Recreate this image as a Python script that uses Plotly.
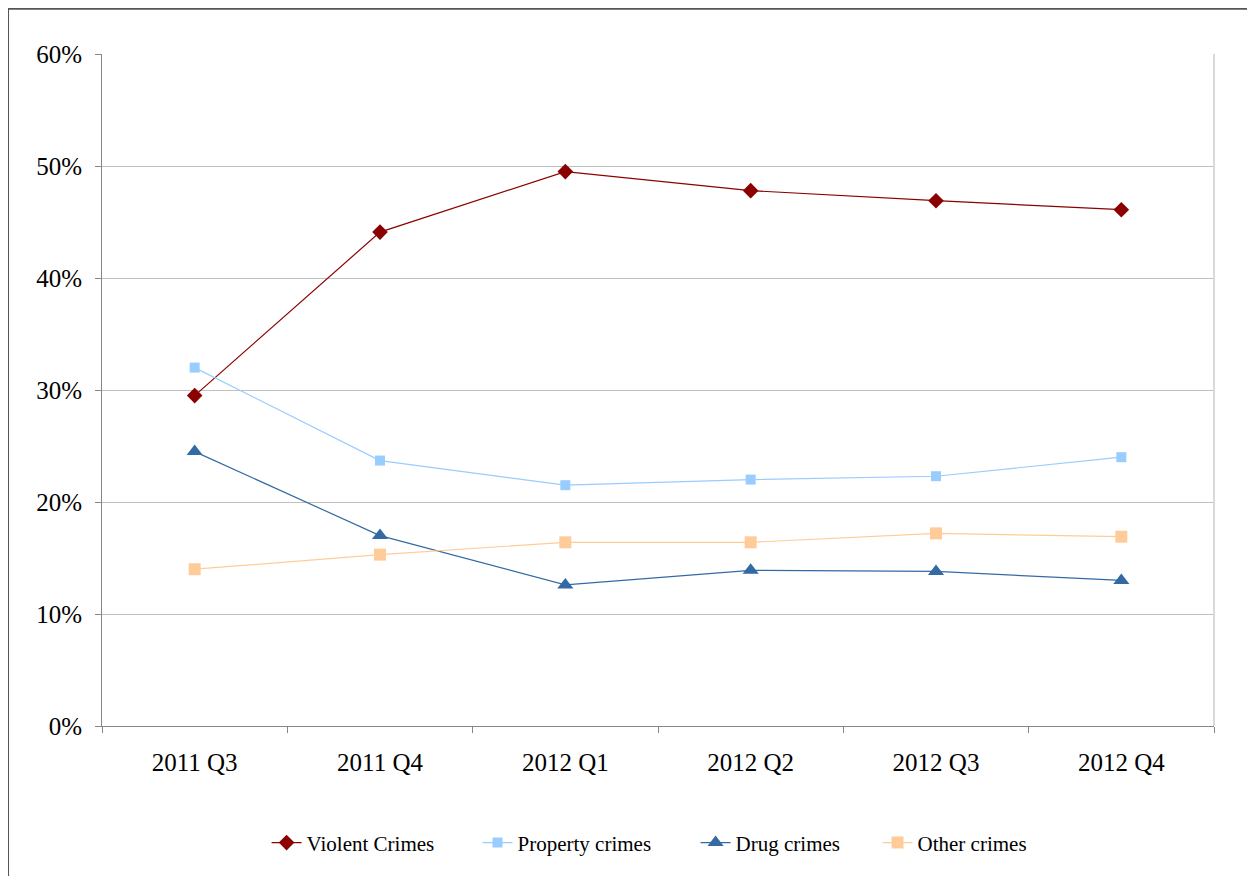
import plotly.graph_objects as go

quarters = ["2011 Q3", "2011 Q4", "2012 Q1", "2012 Q2", "2012 Q3", "2012 Q4"]
violent = [29.5, 44.1, 49.5, 47.8, 46.9, 46.1]
property_ = [32.0, 23.7, 21.5, 22.0, 22.3, 24.0]
drug = [24.5, 17.0, 12.6, 13.9, 13.8, 13.0]
other = [14.0, 15.3, 16.4, 16.4, 17.2, 16.9]

series = [
    ("Violent Crimes", violent, "#8B0000", "diamond", 12),
    ("Property crimes", property_, "#99CCFF", "square", 10),
    ("Drug crimes", drug, "#336AA3", "triangle-up", 14),
    ("Other crimes", other, "#FFCC99", "square", 12),
]
legend_names = ["legend", "legend2", "legend3", "legend4"]
legend_x = [0.1480, 0.3377, 0.5338, 0.6974]

font = "Liberation Serif, Times New Roman, serif"
fig = go.Figure()
for (name, vals, color, sym, size), lg in zip(series, legend_names):
    fig.add_trace(go.Scatter(
        x=quarters, y=[v / 100 for v in vals], name=name, mode="lines+markers",
        line=dict(color=color, width=1.2),
        marker=dict(symbol=sym, size=size, color=color),
        legend=lg,
    ))

legend_layout = {}
for lg, lx in zip(legend_names, legend_x):
    legend_layout[lg] = dict(orientation="h", x=lx, xanchor="left", y=-0.174,
                             yanchor="middle", font=dict(family=font, size=21),
                             bgcolor="rgba(0,0,0,0)")

fig.update_layout(
    width=1247, height=868,
    margin=dict(l=94, r=41, t=46, b=148),
    paper_bgcolor="white", plot_bgcolor="white",
    font=dict(family=font, size=25, color="black"),
    showlegend=True,
    xaxis=dict(range=[-0.5, 5.5], showgrid=False, showline=True, linecolor="#868686",
               linewidth=1, ticks="outside", tickson="boundaries", ticklen=6,
               tickcolor="#868686", tickfont=dict(size=25), zeroline=False,
               ticklabelstandoff=14),
    yaxis=dict(range=[0, 0.6], dtick=0.1, tickformat=".0%", showgrid=True,
               gridcolor="#C0C0C0", gridwidth=1, showline=True, linecolor="#868686",
               ticks="outside", ticklen=6, tickcolor="#868686", zeroline=False,
               tickfont=dict(size=25), ticklabelstandoff=8),
    shapes=[
        dict(type="line", xref="paper", yref="paper", x0=1, x1=1, y0=0, y1=1,
             line=dict(color="#D9D9D9", width=2)),
        dict(type="rect", xref="paper", yref="paper", x0=-0.0845, x1=1.04,
             y0=-0.23, y1=1.0675, line=dict(color="#555555", width=2)),
    ],
    **legend_layout,
)

fig.write_html("out.html")
